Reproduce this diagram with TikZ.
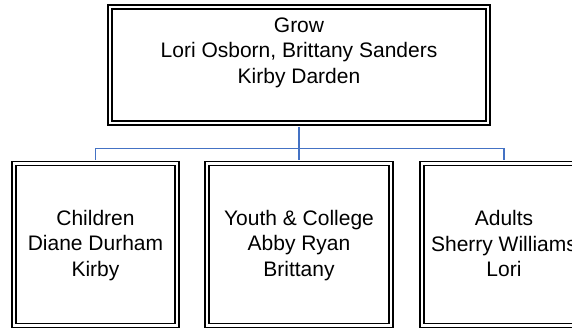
\documentclass[tikz,border=0pt]{standalone}
\usepackage{fontspec}
\setmainfont{Liberation Sans}
\definecolor{linkblue}{RGB}{68,114,196}

\begin{document}
\begin{tikzpicture}
    [x=1pt, y=-1pt,
    box/.style={draw, double, line width=1.8pt, double distance=2.2pt, inner sep=0pt},
    boxtext/.style={align=center, font=\fontsize{21}{25.5}\selectfont},
    link/.style={linkblue, line width=1.8pt, shorten <=3pt, shorten >=3pt}]

    \useasboundingbox (0,0) rectangle (572,327);
    \clip (0,0) rectangle (572,327);

    \node[box, minimum width=378pt, minimum height=116pt] (grow) at (299,65) {};
    \node[box, minimum width=163pt, minimum height=162pt] (kids) at (95.5,244.5) {};
    \node[box, minimum width=184pt, minimum height=162pt] (youth) at (299,244.5) {};
    \node[box, minimum width=164pt, minimum height=162pt] (adults) at (504,244.5) {};

    \node[boxtext] (growtext) at (299,52.5) {Grow\\Lori Osborn, Brittany Sanders\\Kirby Darden};
    \node[boxtext] (kidstext) at (95.5,245.5) {Children\\Diane Durham\\Kirby};
    \node[boxtext] (youthtext) at (299,245.5) {Youth \& College\\Abby Ryan\\Brittany};
    \node[boxtext] (adultstext) at (504,243.5) {Adults\\Sherry Williams\\Lori};

    \coordinate (bus) at (299,148.5);
    \draw[link] (grow) -- (youth);
    \draw[link] (kids.north) |- (bus) -| (adults.north);

\end{tikzpicture}
\end{document}
